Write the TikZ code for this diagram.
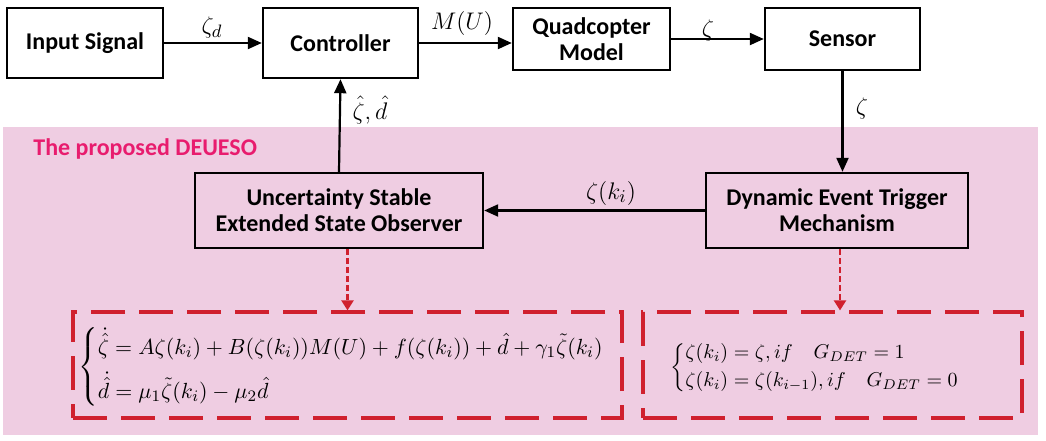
\documentclass[tikz,border=0pt]{standalone}
\usepackage{amsmath}
\usepackage{fontspec}
\setmainfont{Carlito}
\usetikzlibrary{arrows.meta}
\definecolor{pinkbg}{RGB}{239,205,226}
\definecolor{titlepink}{RGB}{232,28,110}
\definecolor{dred}{RGB}{208,32,46}
\begin{document}
\begin{tikzpicture}[x=0.5pt,y=-0.5pt,
 blk/.style={draw=black,line width=1.2pt,inner sep=0pt,align=center,font=\fontsize{12}{13}\selectfont\bfseries},
 arr/.style={line width=1.1pt,-{Triangle[length=7pt,width=6pt]}},
 redarr/.style={draw=dred,line width=1.1pt,dash pattern=on 3pt off 1.5pt,-{Triangle[length=5pt,width=6pt]},dred},
 eqbox/.style={draw=dred,line width=1.6pt,dash pattern=on 17pt off 7pt,inner sep=0pt},
 lbl/.style={font=\fontsize{12.5}{13}\selectfont,inner sep=0pt},
 eqn/.style={inner sep=0pt,anchor=west}]
\useasboundingbox (0,0) rectangle (1046,440);
\fill[white] (0,0) rectangle (1046,440);
\fill[pinkbg] (3,127) rectangle (1038,435);
\node[font=\fontsize{12}{13}\selectfont\bfseries,text=titlepink,anchor=west,inner sep=0pt] (title) at (33,149) {The proposed DEUESO};
% blocks
\node[blk,minimum width=78pt,minimum height=35pt] (inp) at (85,43) {Input Signal};
\node[blk,minimum width=77.5pt,minimum height=35pt] (ctrl) at (340.5,43) {Controller};
\node[blk,minimum width=78.5pt,minimum height=31pt] (quad) at (591.5,39) {Quadcopter\\Model};
\node[blk,minimum width=77.5pt,minimum height=31pt] (sens) at (842.5,39) {Sensor};
\node[blk,minimum width=144pt,minimum height=37.5pt] (useso) at (339,210.5) {Uncertainty Stable\\Extended State Observer};
\node[blk,minimum width=131pt,minimum height=37.5pt] (det) at (837,210.5) {Dynamic Event Trigger\\Mechanism};
% equation boxes
\node[eqbox,minimum width=274.5pt,minimum height=53pt] (eq1) at (347.5,365) {};
\node[eqbox,minimum width=189.5pt,minimum height=53pt] (eq2) at (832.5,365) {};
\node[eqn,font=\fontsize{11.3}{13}\selectfont] (eqa) at (78,367) {$\left\{\begin{array}{@{}l@{}}
\dot{\hat{\zeta}} = A\zeta(k_i) + B(\zeta(k_i))M(U) + f(\zeta(k_i)) + \hat{d} + \gamma_1\tilde{\zeta}(k_i)\\[5pt]
\dot{\hat{d}} = \mu_1\tilde{\zeta}(k_i) - \mu_2\hat{d}
\end{array}\right.$};
\node[eqn,font=\fontsize{10.4}{12}\selectfont] (eqb) at (670,368) {$\left\{\begin{array}{@{}l@{}}
\zeta(k_i) = \zeta, if\quad G_{DET} = 1\\[2pt]
\zeta(k_i) = \zeta(k_{i-1}), if\quad G_{DET} = 0
\end{array}\right.$};
% connectors
\draw[arr] (inp.east) -- (ctrl.west);
\draw[arr] (ctrl.east) -- (ctrl.east -| quad.west);
\draw[arr] (quad.east) -- (sens.west);
\draw[arr] (sens.south) -- (sens.south |- det.north);
\draw[arr] (det.west) -- (useso.east);
\draw[arr] (useso.north) -- (ctrl.south);
\draw[redarr] (eq1.north |- useso.south) -- (eq1.north);
\draw[redarr] ([xshift=1.5pt]det.south) -- ([xshift=1.5pt]det.south |- eq2.north);
% labels
\node[lbl] (lzd) at (212,27) {$\zeta_d$};
\node[lbl] (lmu) at (462,23) {$M(U)$};
\node[lbl] (lz1) at (708,30) {$\zeta$};
\node[lbl] (lhat) at (370,110) {$\hat{\zeta},\hat{d}$};
\node[lbl] (lz2) at (862,108) {$\zeta$};
\node[lbl] (lzk) at (611,193) {$\zeta(k_i)$};
\end{tikzpicture}
\end{document}
